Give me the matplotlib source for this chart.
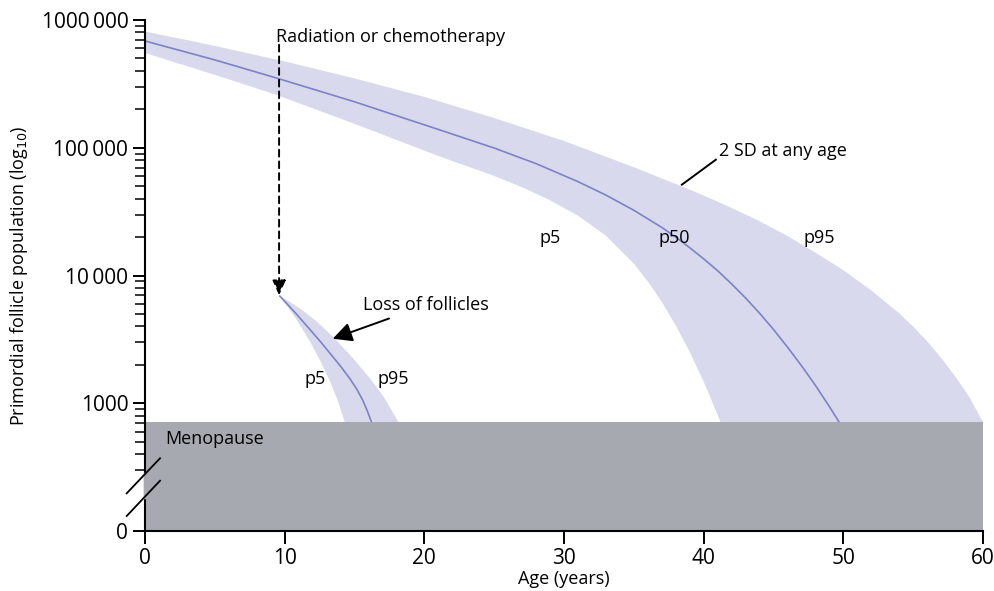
import numpy as np
import matplotlib.pyplot as plt
from matplotlib.ticker import FixedLocator, FixedFormatter, NullFormatter

plt.rcParams['font.family'] = ['Open Sans', 'DejaVu Sans']

# main curve (age in years, follicle count)
age_p50 = [0, 5, 9.43, 15, 21.1, 25, 28, 31, 33, 35, 37, 38, 39, 40, 41, 42, 43, 44, 45,
           46, 47, 48, 49, 49.7]
n_p50 = [685e3, 487e3, 351e3, 229e3, 138e3, 99.5e3, 75.1e3, 54.3e3, 42.6e3, 32.4e3, 23.8e3,
         20.0e3, 16.5e3, 13.5e3, 10.9e3, 8.59e3, 6.67e3, 5.07e3, 3.78e3, 2.75e3, 1.97e3,
         1.38e3, 942, 711]

age_hi = [0, 5, 10, 15, 20, 25, 30, 35, 38.3, 40, 42, 44, 46, 48, 50, 52, 54, 55, 56, 57,
          58, 59, 60]
n_hi = [813e3, 627e3, 474e3, 349e3, 250e3, 171e3, 113e3, 70.4e3, 50.5e3, 42.3e3, 33.8e3,
        26.6e3, 20.4e3, 15.1e3, 11.0e3, 7.65e3, 5.06e3, 3.98e3, 3.05e3, 2.27e3, 1.63e3,
        1.13e3, 711]

age_lo = [0, 5, 9.43, 15, 21.1, 25, 27, 29, 31, 33, 35, 36, 37, 38, 39, 39.5, 40, 40.5,
          41, 41.2]
n_lo = [552e3, 372e3, 259e3, 154e3, 85.5e3, 60.2e3, 49.1e3, 38.8e3, 29.4e3, 20.5e3,
        12.4e3, 8.99e3, 6.22e3, 4.07e3, 2.53e3, 1.93e3, 1.47e3, 1.10e3, 807, 711]

# after radiation / chemotherapy
age2_p50 = [9.66, 10.8, 11.8, 12.6, 13.3, 14.0, 14.7, 15.2, 15.6, 15.9, 16.22]
n2_p50 = [6.89e3, 5.05e3, 3.79e3, 3.0e3, 2.42e3, 1.95e3, 1.54e3, 1.27e3, 1.05e3, 881, 711]
age2_hi = [9.66, 10.3, 11.1, 12.3, 13.46, 14.8, 16.1, 17.1, 18.15]
n2_hi = [6.89e3, 6.29e3, 5.52e3, 4.36e3, 3.32e3, 2.31e3, 1.57e3, 1.12e3, 711]
age2_lo = [9.66, 10.8, 11.81, 12.5, 13.24, 13.8, 14.3]
n2_lo = [6.89e3, 4.61e3, 3.04e3, 2.20e3, 1.49e3, 1.05e3, 711]

menopause = 711
y_bottom = 100
y_ticks = [100, 1e3, 1e4, 1e5, 1e6]
y_labels = ['0', '1000', '10\u2009000', '100\u2009000', '1000\u2009000']

band_col = '#D8D9EC'
line_col = '#7D82C6'
grey = '#A6AAB0'

fig = plt.figure(figsize=(9.95, 5.91), dpi=100)
ax = fig.add_axes([145/995, 60/591, 838/995, 511/591])
ax.set_yscale('log')
ax.set_xlim(0, 60)
ax.set_ylim(y_bottom, 1e6)

# bands as closed polygons
ax.fill(age_hi + age_lo[::-1], n_hi + n_lo[::-1], color=band_col, lw=0, zorder=1)
ax.plot(age_p50, n_p50, color=line_col, lw=1.2, zorder=2)
ax.fill(age2_hi + age2_lo[::-1], n2_hi + n2_lo[::-1], color=band_col, lw=0, zorder=1)
ax.plot(age2_p50, n2_p50, color=line_col, lw=1.2, zorder=2)

# menopause box
ax.fill_between([0, 60], y_bottom, menopause, color=grey, lw=0, zorder=3)

for s in ['top', 'right']:
    ax.spines[s].set_visible(False)
for s in ['left', 'bottom']:
    ax.spines[s].set_linewidth(1.5)
    ax.spines[s].set_zorder(5)

ax.yaxis.set_major_locator(FixedLocator(y_ticks))
ax.yaxis.set_major_formatter(FixedFormatter(y_labels))
minors = [m * 10**e for e in range(3, 6) for m in range(2, 10)] + [300, 400, 500, 600, 700, 800, 900]
ax.yaxis.set_minor_locator(FixedLocator(minors))
ax.yaxis.set_minor_formatter(NullFormatter())
ax.set_xticks(range(0, 61, 10))
ax.tick_params(axis='both', which='major', length=9, width=1.4, labelsize=15, direction='out', pad=3)
ax.tick_params(axis='y', which='minor', length=7, width=1.1)

ax.set_xlabel('Age (years)', fontsize=13, labelpad=1)
ax.set_ylabel('Primordial follicle population (log$_{10}$)', fontsize=13, labelpad=8)

# axis break
ax.plot([0.0, 0.0], [0.067, 0.112], transform=ax.transAxes, color=grey, lw=2.5,
        clip_on=False, zorder=6)
for y0, y1 in [(0.0738, 0.1423), (0.0294, 0.0984)]:
    ax.plot([-0.0218, 0.0179], [y0, y1], transform=ax.transAxes, color='black',
            lw=1.3, clip_on=False, zorder=7)

# annotations
ax.text(9.38, 7.4e5, 'Radiation or chemotherapy', fontsize=13, va='center', ha='left')
ax.annotate('', xy=(9.6, 7.0e3), xytext=(9.6, 6.4e5),
            arrowprops=dict(arrowstyle='-|>,head_length=0.9,head_width=0.4',
                            linestyle=(0, (3.5, 2.5)), color='black', lw=1.4,
                            shrinkA=0, shrinkB=0), zorder=6)
ax.plot([38.44, 40.87], [5.14e4, 8.06e4], color='black', lw=1.4, zorder=6)
ax.text(41.1, 9.5e4, '2 SD at any age', fontsize=13, va='center', ha='left')
ax.annotate('Loss of follicles', xy=(13.44, 3.2e3), xytext=(15.6, 5.84e3),
            fontsize=13, va='center', ha='left',
            arrowprops=dict(arrowstyle='-|>,head_length=0.9,head_width=0.45',
                            color='black', lw=1.4, shrinkA=3, shrinkB=0))
ax.text(29.0, 1.98e4, 'p5', fontsize=13, ha='center', va='center')
ax.text(37.9, 1.98e4, 'p50', fontsize=13, ha='center', va='center')
ax.text(48.3, 1.98e4, 'p95', fontsize=13, ha='center', va='center')
ax.text(12.17, 1.54e3, 'p5', fontsize=13, ha='center', va='center')
ax.text(17.75, 1.54e3, 'p95', fontsize=13, ha='center', va='center')
ax.text(1.43, 523, 'Menopause', fontsize=13, ha='left', va='center', zorder=6)

fig.savefig('out.png', dpi=100)
